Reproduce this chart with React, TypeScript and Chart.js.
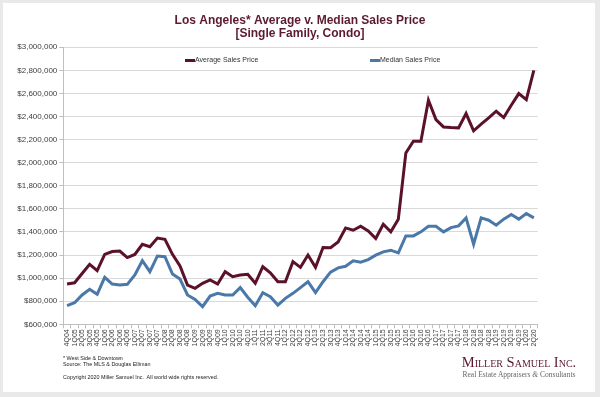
import React, { useEffect, useRef } from "react";
import { Chart, registerables } from "chart.js";

Chart.register(...registerables);

const TITLE_LINES = ["Los Angeles* Average v. Median Sales Price", "[Single Family, Condo]"];

const quarters = [
  "4Q04",
  "1Q05", "2Q05", "3Q05", "4Q05",
  "1Q06", "2Q06", "3Q06", "4Q06",
  "1Q07", "2Q07", "3Q07", "4Q07",
  "1Q08", "2Q08", "3Q08", "4Q08",
  "1Q09", "2Q09", "3Q09", "4Q09",
  "1Q10", "2Q10", "3Q10", "4Q10",
  "1Q11", "2Q11", "3Q11", "4Q11",
  "1Q12", "2Q12", "3Q12", "4Q12",
  "1Q13", "2Q13", "3Q13", "4Q13",
  "1Q14", "2Q14", "3Q14", "4Q14",
  "1Q15", "2Q15", "3Q15", "4Q15",
  "1Q16", "2Q16", "3Q16", "4Q16",
  "1Q17", "2Q17", "3Q17", "4Q17",
  "1Q18", "2Q18", "3Q18", "4Q18",
  "1Q19", "2Q19", "3Q19", "4Q19",
  "1Q20", "2Q20",
];

const averageSalesPrice = [
  950000, 960000, 1040000, 1120000, 1065000,
  1205000, 1230000, 1235000, 1178000,
  1205000, 1293000, 1272000, 1347000,
  1336000, 1206000, 1105000, 940000,
  912000, 955000, 984000, 949000,
  1056000, 1013000, 1027000, 1033000,
  955000, 1099000, 1047000, 969000,
  969000, 1143000, 1093000, 1200000,
  1093000, 1266000, 1263000, 1314000,
  1435000, 1415000, 1450000, 1409000,
  1343000, 1467000, 1401000, 1511000,
  2085000, 2186000, 2186000, 2542000,
  2374000, 2310000, 2305000, 2302000,
  2426000, 2276000, 2334000, 2388000,
  2446000, 2391000, 2498000, 2599000,
  2547000, 2801000,
];

const medianSalesPrice = [
  761000, 787000, 854000, 903000, 860000,
  1007000, 949000, 940000, 946000,
  1027000, 1151000, 1056000, 1192000,
  1186000, 1036000, 992000, 854000,
  816000, 753000, 845000, 868000,
  854000, 854000, 918000, 834000,
  761000, 874000, 839000, 767000,
  825000, 868000, 918000, 969000,
  874000, 969000, 1052000, 1089000,
  1103000, 1150000, 1138000, 1161000,
  1199000, 1228000, 1242000, 1219000,
  1366000, 1366000, 1401000, 1450000,
  1450000, 1401000, 1438000, 1453000,
  1522000, 1294000, 1522000, 1502000,
  1459000, 1511000, 1551000, 1511000,
  1560000, 1522000,
];

const Y_MIN = 600000;
const Y_MAX = 3000000;
const Y_STEP = 200000;

const AVG_COLOR = "#5b1228";
const MED_COLOR = "#4a78a9";
const TITLE_COLOR = "#5c1a2e";

const SANS = '"Liberation Sans", Arial, Helvetica, sans-serif';
const SERIF = '"Liberation Serif", "Times New Roman", serif';

const legendPlugin = {
  id: "insideLegend",
  afterDraw(chart: any) {
    const ctx = chart.ctx;
    const positions = [185, 370];
    const y = 60.5;
    ctx.save();
    ctx.font = `7px ${SANS}`;
    ctx.textBaseline = "middle";
    ctx.textAlign = "left";
    chart.data.datasets.forEach((ds: any, i: number) => {
      const x = positions[i];
      ctx.strokeStyle = ds.borderColor;
      ctx.lineWidth = 3;
      ctx.beginPath();
      ctx.moveTo(x, y);
      ctx.lineTo(x + 10, y);
      ctx.stroke();
      ctx.fillStyle = "#333333";
      ctx.fillText(ds.label, x + 10, y);
    });
    ctx.restore();
  },
};

export default function App() {
  const canvasRef = useRef<HTMLCanvasElement>(null);

  useEffect(() => {
    const chart = new Chart(canvasRef.current as HTMLCanvasElement, {
      type: "line",
      data: {
        labels: quarters,
        datasets: [
          {
            label: "Average Sales Price",
            data: averageSalesPrice,
            borderColor: AVG_COLOR,
            backgroundColor: AVG_COLOR,
            borderWidth: 3,
            pointRadius: 0,
            tension: 0,
            yAxisID: "y",
          },
          {
            label: "Median Sales Price",
            data: medianSalesPrice,
            borderColor: MED_COLOR,
            backgroundColor: MED_COLOR,
            borderWidth: 3,
            pointRadius: 0,
            tension: 0,
            yAxisID: "y",
          },
        ],
      },
      options: {
        responsive: false,
        animation: false,
        devicePixelRatio: 1,
        layout: { padding: { top: 0, left: 0, right: 0, bottom: 42.7 } },
        plugins: {
          legend: { display: false },
          tooltip: { enabled: false },
          title: {
            display: true,
            text: TITLE_LINES,
            color: TITLE_COLOR,
            font: { family: SANS, size: 12, weight: "bold", lineHeight: 1.083 },
            padding: { top: 14, bottom: 7.3 },
          },
        },
        scales: {
          x: {
            type: "category",
            offset: true,
            afterFit: (scale: any) => {
              scale.height = 30;
            },
            grid: {
              offset: true,
              drawOnChartArea: false,
              drawTicks: true,
              tickLength: 4,
              color: "#bfbfbf",
            },
            border: { display: true, color: "#bfbfbf", width: 1 },
            ticks: {
              autoSkip: false,
              maxRotation: 90,
              minRotation: 90,
              padding: 1,
              color: "#404040",
              font: { family: SANS, size: 7 },
            },
          },
          y: {
            min: Y_MIN,
            max: Y_MAX,
            afterFit: (scale: any) => {
              scale.width = 63.3;
            },
            grid: {
              color: "#d9d9d9",
              drawTicks: true,
              tickLength: 4,
              tickColor: "#bfbfbf",
            },
            border: { display: true, color: "#bfbfbf", width: 1 },
            ticks: {
              stepSize: Y_STEP,
              padding: 2,
              color: "#404040",
              font: { family: SANS, size: 8 },
              callback: (v: any) => "$" + Number(v).toLocaleString("en-US"),
            },
          },
          rightSpace: {
            type: "linear",
            position: "right",
            display: true,
            afterFit: (scale: any) => {
              scale.width = 62.4;
            },
            grid: { display: false, drawOnChartArea: false, drawTicks: false },
            border: { display: false },
            ticks: { display: false },
          },
        },
      },
      plugins: [legendPlugin],
    });
    return () => chart.destroy();
  }, []);

  return (
    <div
      style={{
        position: "absolute",
        left: 0,
        top: 0,
        width: 600,
        height: 397,
        background: "#e9e9e9",
        overflow: "hidden",
      }}
    >
      <div
        style={{
          position: "absolute",
          left: 3,
          top: 3,
          width: 592,
          height: 389,
          background: "#ffffff",
        }}
      />
      <canvas
        ref={canvasRef}
        width={600}
        height={397}
        style={{ position: "absolute", left: 0, top: 0, width: 600, height: 397 }}
      />
      <div
        style={{
          position: "absolute",
          left: 63,
          top: 354.75,
          fontFamily: SANS,
          fontSize: 5.4,
          lineHeight: "6.5px",
          color: "#222",
          whiteSpace: "nowrap",
        }}
      >
        <div>* West Side &amp; Downtown</div>
        <div>Source: The MLS &amp; Douglas Elliman</div>
        <div style={{ marginTop: 6.5 }}>Copyright 2020 Miller Samuel Inc.&nbsp; All world wide rights reserved.</div>
      </div>
      <div
        style={{
          position: "absolute",
          left: 456,
          top: 354,
          width: 126,
          textAlign: "center",
          fontFamily: SERIF,
          whiteSpace: "nowrap",
        }}
      >
        <div style={{ fontSize: 14.5, lineHeight: "16px", fontVariant: "small-caps", color: "#5a1a2e" }}>
          Miller Samuel Inc.
        </div>
        <div style={{ fontSize: 7.5, lineHeight: "10px", marginTop: 0, color: "#666" }}>
          Real Estate Appraisers <i>&amp;</i> Consultants
        </div>
      </div>
    </div>
  );
}
